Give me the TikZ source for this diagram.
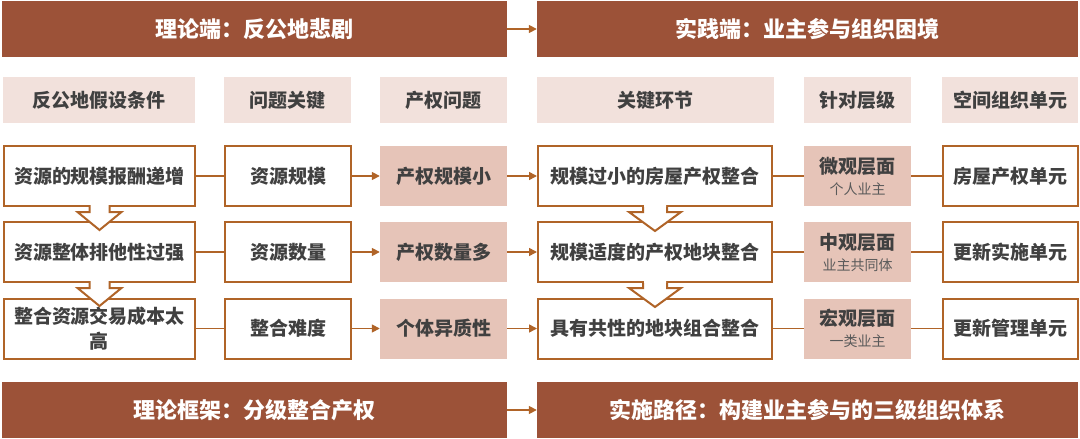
\documentclass[tikz,border=0pt]{standalone}
\usepackage{fontspec}
\setmainfont{Noto Sans CJK SC}
\usetikzlibrary{arrows.meta}
\definecolor{bannerC}{RGB}{156,82,56}
\definecolor{headC}{RGB}{242,225,220}
\definecolor{fillC}{RGB}{230,196,184}
\definecolor{lineC}{RGB}{176,100,40}
\definecolor{textC}{RGB}{64,64,64}
\definecolor{subC}{RGB}{90,90,90}
\newcommand{\bodyfont}{\fontsize{19}{25}\selectfont\bfseries}
\newcommand{\subfont}{\fontsize{14}{17}\selectfont\mdseries\color{subC}}
\begin{document}
\begin{tikzpicture}[x=1pt,y=-1pt,
  banner/.style={fill=bannerC, text=white, font=\fontsize{22}{26}\selectfont\bfseries, inner sep=0pt, minimum height=56pt},
  head/.style={fill=headC, text=textC, font=\bodyfont, inner sep=0pt, minimum height=46pt},
  obox/.style={draw=lineC, line width=2pt, fill=white, text=textC, font=\bodyfont, inner sep=0pt, minimum height=60pt, align=center},
  fbox/.style={fill=fillC, text=textC, font=\bodyfont, inner sep=0pt, minimum height=60pt, align=center},
  link/.style={draw=lineC, line width=1.6pt},
  arr/.style={link, -{Triangle[length=8pt,width=8pt]}},
  callout/.style={draw=lineC, line width=2pt, line join=miter}
]
\useasboundingbox (0,0) rectangle (1080,439);
% banners
\node[banner, minimum width=505pt] (tl) at (254.5,29) {理论端：反公地悲剧};
\node[banner, minimum width=541pt] (tr) at (807.5,29) {实践端：业主参与组织困境};
\node[banner, minimum width=505pt] (bl) at (254.5,410) {理论框架：分级整合产权};
\node[banner, minimum width=541pt] (br) at (807.5,410) {实施路径：构建业主参与的三级组织体系};
\draw[arr] (tl.east) -- (tr.west);
\draw[arr] (bl.east) -- (br.west);
% headers
\node[head, minimum width=192pt] (h1) at (99,100) {反公地假设条件};
\node[head, minimum width=127pt] (h2) at (287.5,100) {问题关键};
\node[head, minimum width=127pt] (h3) at (443.5,100) {产权问题};
\node[head, minimum width=237pt] (h4) at (655.5,100) {关键环节};
\node[head, minimum width=107pt] (h5) at (857.5,100) {针对层级};
\node[head, minimum width=136pt] (h6) at (1010,100) {空间组织单元};
% rows
\foreach \r/\y/\ta/\tb/\tc/\td/\te/\tf/\tg in {
  1/176/资源的规模报酬递增/资源规模/产权规模小/规模过小的房屋产权整合/微观层面/个人业主/房屋产权单元,
  2/252/资源整体排他性过强/资源数量/产权数量多/规模适度的产权地块整合/中观层面/业主共同体/更新实施单元,
  3/328.5/{整合资源交易成本太\\高}/整合难度/个体异质性/具有共性的地块组合整合/宏观层面/一类业主/更新管理单元}{
  \node[obox, minimum width=191pt] (a\r) at (99.5,\y) {\ta};
  \node[obox, minimum width=126pt] (b\r) at (288,\y) {\tb};
  \node[fbox, minimum width=127pt] (c\r) at (443.5,\y) {\tc};
  \node[obox, minimum width=234pt] (d\r) at (655,\y) {\td};
  \node[fbox, minimum width=107pt] (e\r) at (857.5,\y) {\te\\[-4pt]{\subfont \tf}};
  \node[obox, minimum width=135pt] (f\r) at (1010.5,\y) {\tg};
  \draw[link] (a\r.east) -- (b\r.west);
  \draw[arr] (b\r.east) -- (c\r.west);
  \draw[arr] (c\r.east) -- (d\r.west);
  \draw[link] (d\r.east) -- (e\r.west);
  \draw[link] (e\r.east) -- (f\r.west);
}
% callout arrows between rows
\foreach \u in {1,2}{
  \path (a\u.south) coordinate (ca);
  \fill[white] ([xshift=-9pt,yshift=2pt]ca) -- ([xshift=-9pt,yshift=-5pt]ca) -- ([xshift=-22pt,yshift=-5pt]ca) -- ([yshift=-23pt]ca) -- ([xshift=22pt,yshift=-5pt]ca) -- ([xshift=9pt,yshift=-5pt]ca) -- ([xshift=9pt,yshift=2pt]ca) -- cycle;
  \draw[callout] ([xshift=-10pt]ca) -- ([xshift=-10pt,yshift=-5pt]ca) -- ([xshift=-22pt,yshift=-5pt]ca) -- ([yshift=-23pt]ca) -- ([xshift=22pt,yshift=-5pt]ca) -- ([xshift=10pt,yshift=-5pt]ca) -- ([xshift=10pt]ca);
  \path (d\u.south) coordinate (cd);
  \fill[white] ([xshift=-11pt,yshift=2pt]cd) -- ([xshift=-11pt,yshift=-5pt]cd) -- ([xshift=-26pt,yshift=-5pt]cd) -- ([yshift=-24pt]cd) -- ([xshift=26pt,yshift=-5pt]cd) -- ([xshift=11pt,yshift=-5pt]cd) -- ([xshift=11pt,yshift=2pt]cd) -- cycle;
  \draw[callout] ([xshift=-12pt]cd) -- ([xshift=-12pt,yshift=-5pt]cd) -- ([xshift=-26pt,yshift=-5pt]cd) -- ([yshift=-24pt]cd) -- ([xshift=26pt,yshift=-5pt]cd) -- ([xshift=12pt,yshift=-5pt]cd) -- ([xshift=12pt]cd);
}
\end{tikzpicture}
\end{document}
